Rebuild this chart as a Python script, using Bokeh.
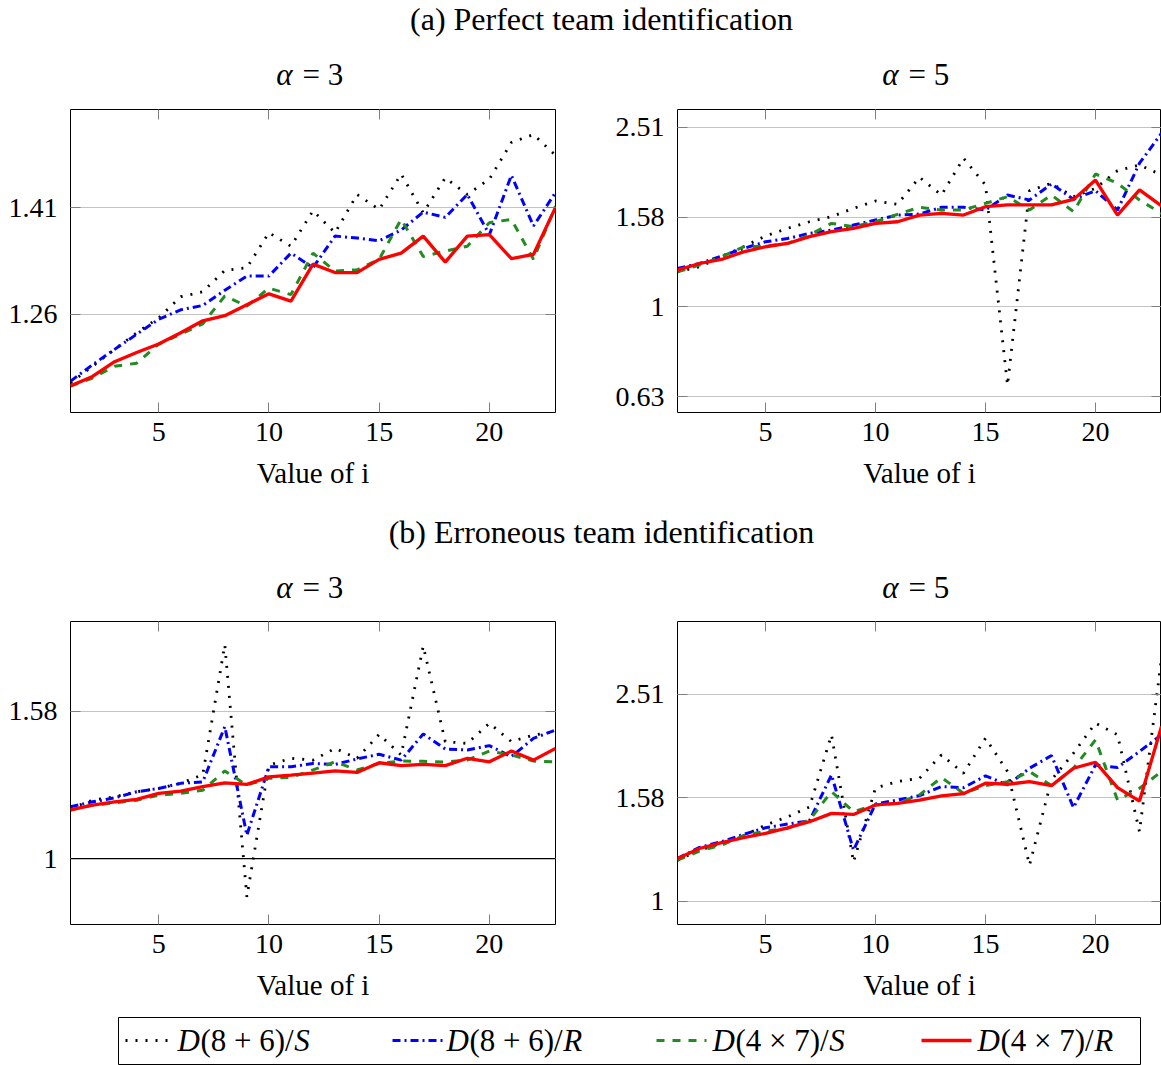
from bokeh.plotting import figure
from bokeh.models import Range1d, FixedTicker, CustomJSTickFormatter, LinearAxis, LogAxis, Span
from bokeh.layouts import column, row
from bokeh.embed import file_html
from bokeh.resources import INLINE
from bokeh.core.properties import value

FONT = "Liberation Serif"

# ---------------- data ----------------
i_values = [1, 2, 3, 4, 5, 6, 7, 8, 9, 10, 11, 12, 13, 14, 15, 16, 17, 18, 19, 20, 21, 22, 23]
x_ticks = [5, 10, 15, 20]

# (a) Perfect team identification, alpha = 3
a3_S86 = [1.169, 1.190, 1.212, 1.234, 1.254, 1.283, 1.290, 1.320, 1.324, 1.375, 1.355, 1.408, 1.375, 1.433, 1.410, 1.465, 1.405, 1.459, 1.433, 1.457, 1.516, 1.529, 1.495]
a3_R86 = [1.171, 1.192, 1.212, 1.232, 1.252, 1.265, 1.271, 1.292, 1.312, 1.312, 1.345, 1.324, 1.370, 1.367, 1.363, 1.379, 1.406, 1.398, 1.433, 1.372, 1.463, 1.385, 1.436]
a3_S47 = [1.165, 1.175, 1.190, 1.194, 1.219, 1.232, 1.246, 1.284, 1.270, 1.295, 1.286, 1.345, 1.319, 1.321, 1.336, 1.395, 1.340, 1.348, 1.355, 1.390, 1.395, 1.336, 1.415]
a3_R47 = [1.165, 1.177, 1.196, 1.208, 1.219, 1.234, 1.250, 1.257, 1.272, 1.287, 1.277, 1.329, 1.317, 1.317, 1.336, 1.345, 1.370, 1.332, 1.370, 1.372, 1.337, 1.343, 1.413]

# (a) Perfect team identification, alpha = 5
a5_S86 = [1.197, 1.228, 1.293, 1.361, 1.438, 1.495, 1.547, 1.588, 1.657, 1.721, 1.692, 1.943, 1.774, 2.142, 1.868, 0.669, 1.814, 1.884, 1.759, 1.836, 2.010, 2.070, 1.966]
a5_R86 = [1.218, 1.249, 1.297, 1.349, 1.396, 1.420, 1.457, 1.482, 1.521, 1.561, 1.601, 1.609, 1.666, 1.666, 1.643, 1.774, 1.729, 1.878, 1.735, 1.814, 1.643, 2.088, 2.435]
a5_S47 = [1.197, 1.239, 1.293, 1.361, 1.366, 1.384, 1.445, 1.534, 1.508, 1.547, 1.607, 1.666, 1.643, 1.643, 1.700, 1.759, 1.643, 1.774, 1.629, 1.976, 1.884, 1.729, 1.615]
a5_R47 = [1.207, 1.249, 1.275, 1.326, 1.361, 1.384, 1.433, 1.470, 1.495, 1.534, 1.547, 1.601, 1.615, 1.601, 1.671, 1.686, 1.686, 1.686, 1.735, 1.916, 1.601, 1.821, 1.677]

# (b) Erroneous team identification, alpha = 3
b3_S86 = [1.170, 1.200, 1.213, 1.232, 1.245, 1.265, 1.300, 1.950, 0.887, 1.339, 1.368, 1.360, 1.411, 1.368, 1.474, 1.382, 1.942, 1.441, 1.433, 1.526, 1.441, 1.471, 1.487]
b3_R86 = [1.176, 1.194, 1.209, 1.232, 1.245, 1.265, 1.271, 1.510, 1.076, 1.332, 1.332, 1.346, 1.342, 1.365, 1.385, 1.360, 1.476, 1.408, 1.404, 1.423, 1.375, 1.456, 1.494]
b3_S47 = [1.164, 1.182, 1.190, 1.200, 1.219, 1.226, 1.238, 1.315, 1.258, 1.285, 1.289, 1.319, 1.353, 1.319, 1.346, 1.356, 1.355, 1.352, 1.360, 1.399, 1.382, 1.356, 1.353]
b3_R47 = [1.164, 1.182, 1.194, 1.203, 1.226, 1.235, 1.252, 1.267, 1.261, 1.291, 1.298, 1.306, 1.315, 1.309, 1.349, 1.337, 1.342, 1.337, 1.368, 1.353, 1.399, 1.360, 1.411]

# (b) Erroneous team identification, alpha = 5
b5_S86 = [1.200, 1.255, 1.293, 1.338, 1.403, 1.455, 1.520, 2.096, 1.190, 1.655, 1.702, 1.727, 1.917, 1.766, 2.065, 1.780, 1.174, 1.715, 1.931, 2.208, 2.096, 1.362, 2.949]
b5_R86 = [1.209, 1.270, 1.303, 1.346, 1.386, 1.409, 1.430, 1.753, 1.255, 1.541, 1.568, 1.599, 1.665, 1.657, 1.746, 1.677, 1.806, 1.911, 1.516, 1.833, 1.812, 1.946, 2.096]
b5_S47 = [1.200, 1.250, 1.283, 1.338, 1.366, 1.382, 1.435, 1.628, 1.489, 1.534, 1.545, 1.604, 1.733, 1.616, 1.672, 1.702, 1.780, 1.672, 1.806, 2.049, 1.568, 1.652, 1.780]
b5_R47 = [1.209, 1.264, 1.297, 1.326, 1.352, 1.386, 1.424, 1.478, 1.471, 1.534, 1.545, 1.568, 1.597, 1.613, 1.690, 1.682, 1.702, 1.672, 1.806, 1.855, 1.657, 1.561, 2.175]

# y tick values (log axis) and their printed labels
a3_ticks = [10 ** 0.1, 10 ** 0.15]
a3_labels = ["1.26", "1.41"]
a5_ticks = [10 ** -0.2, 1.0, 10 ** 0.2, 10 ** 0.4]
a5_labels = ["0.63", "1", "1.58", "2.51"]
b3_ticks = [1.0, 10 ** 0.2]
b3_labels = ["1", "1.58"]
b5_ticks = [1.0, 10 ** 0.2, 10 ** 0.4]
b5_labels = ["1", "1.58", "2.51"]

# y ranges of the four panels
a3_range = (1.132, 1.571)
a5_range = (0.582, 2.750)
b3_range = (0.814, 2.097)
b5_range = (0.9015, 3.469)

section_titles = ["(a) Perfect team identification", "(b) Erroneous team identification"]
alpha_symbol = "α"
alpha_values = ["= 3", "= 5"]
legend_parts = [("D", "(8 + 6)/", "S"), ("D", "(8 + 6)/", "R"),
                ("D", "(4 × 7)/", "S"), ("D", "(4 × 7)/", "R")]

# ---------------- styles ----------------
STYLES = [
    dict(line_color="black", line_dash="2 8", line_width=2.8),
    dict(line_color="blue", line_dash="8 4 2 4", line_width=3.0),
    dict(line_color="#228b22", line_dash="8 8", line_width=3.0),
    dict(line_color="red", line_dash="solid", line_width=3.3),
]
TICK_COLOR = "#808080"
GRID_COLOR = "#c4c4c4"

TOTAL_W = 1161
LEFT_W = 608
RIGHT_W = TOTAL_W - LEFT_W
PANEL_CENTERS = [313, 919]


def style_axis(ax, label_size="28px"):
    ax.axis_line_color = None
    ax.major_tick_in = 10
    ax.major_tick_out = 0
    ax.minor_tick_line_color = None
    ax.major_tick_line_color = TICK_COLOR
    ax.major_tick_line_width = 1
    ax.major_label_text_font = FONT
    ax.major_label_text_font_size = label_size
    ax.major_label_text_color = "black"


def hidden_axis(ax):
    style_axis(ax, "0px")
    ax.major_label_standoff = 0
    ax.major_label_text_color = None


def panel(series, yrange, ticks, labels, width, height, b_left, b_right, b_top, b_bottom, unit_line=False):
    p = figure(width=width, height=height, x_range=Range1d(1, 23), y_range=Range1d(*yrange),
               y_axis_type="log", output_backend="svg", toolbar_location=None,
               min_border_left=b_left, min_border_right=b_right,
               min_border_top=b_top, min_border_bottom=b_bottom)
    p.background_fill_color = "white"
    p.border_fill_color = "white"
    p.outline_line_color = "black"
    p.outline_line_width = 1

    yt = FixedTicker(ticks=ticks)
    xt = FixedTicker(ticks=x_ticks)
    fmt = CustomJSTickFormatter(args=dict(vals=ticks, labs=labels), code="""
        for (let k = 0; k < vals.length; k++) {
            if (Math.abs(tick - vals[k]) < 1e-6 * vals[k]) { return labs[k]; }
        }
        return tick.toFixed(2);
    """)

    yax = p.yaxis[0]
    yax.ticker = yt
    yax.formatter = fmt
    style_axis(yax)
    yax.major_label_standoff = 13

    xax = p.xaxis[0]
    xax.ticker = xt
    style_axis(xax)
    xax.major_label_standoff = 10
    xax.axis_label = "Value of i"
    xax.axis_label_text_font = FONT
    xax.axis_label_text_font_size = "29px"
    xax.axis_label_text_font_style = "normal"
    xax.axis_label_text_color = "black"
    xax.axis_label_standoff = 13

    top = LinearAxis(ticker=xt)
    hidden_axis(top)
    p.add_layout(top, "above")
    right = LogAxis(ticker=yt)
    hidden_axis(right)
    p.add_layout(right, "right")

    p.xgrid.visible = False
    p.ygrid[0].ticker = yt
    p.ygrid.grid_line_color = GRID_COLOR
    p.ygrid.grid_line_width = 1.2

    if unit_line:
        p.add_layout(Span(location=1.0, dimension="width", line_color="black", line_width=1.2))

    for ys, st in zip(series, STYLES):
        p.line(i_values, ys, **st)
    return p


def blank(width, height):
    p = figure(width=width, height=height, x_range=Range1d(0, width), y_range=Range1d(height, 0),
               output_backend="svg", toolbar_location=None, min_border=0,
               x_axis_location=None, y_axis_location=None)
    p.outline_line_color = None
    p.background_fill_color = "white"
    p.border_fill_color = "white"
    for g in p.grid:
        g.visible = False
    return p


def header(height, title, title_mid, alpha_mid):
    h = blank(TOTAL_W, height)
    h.text(x=[601], y=[title_mid], text=[title], text_font=value(FONT), text_font_size="32px",
           text_align="center", text_baseline="middle", text_color="black")
    # "α" in italic, "= n" upright, as in the math-set titles
    h.text(x=[c - 21 for c in PANEL_CENTERS], y=[alpha_mid, alpha_mid], text=[alpha_symbol, alpha_symbol],
           text_font=value(FONT), text_font_size="31px", text_font_style="italic",
           text_align="right", text_baseline="middle", text_color="black")
    h.text(x=[c - 11 for c in PANEL_CENTERS], y=[alpha_mid, alpha_mid], text=alpha_values,
           text_font=value(FONT), text_font_size="31px",
           text_align="left", text_baseline="middle", text_color="black")
    return h


# page rows: header a 0-95, panels a 95-500, header b 500-607, panels b 607-1008, legend 1008-1065
head_a = header(95, section_titles[0], 18, 74)
pa3 = panel([a3_S86, a3_R86, a3_S47, a3_R47], a3_range, a3_ticks, a3_labels, LEFT_W, 405, 70, 53, 14, 88)
pa5 = panel([a5_S86, a5_R86, a5_S47, a5_R47], a5_range, a5_ticks, a5_labels, RIGHT_W, 405, 69, 0, 14, 88)

head_b = header(107, section_titles[1], 31, 87)
pb3 = panel([b3_S86, b3_R86, b3_S47, b3_R47], b3_range, b3_ticks, b3_labels, LEFT_W, 401, 70, 53, 14, 84, unit_line=True)
pb5 = panel([b5_S86, b5_R86, b5_S47, b5_R47], b5_range, b5_ticks, b5_labels, RIGHT_W, 401, 69, 0, 14, 84)

# ---------------- legend ----------------
leg = blank(TOTAL_W, 57)
leg.quad(left=[118], right=[1140], top=[9], bottom=[56], fill_color=None, line_color="black", line_width=1)
LEG_FS = 31
sample_x = [125, 392, 656, 921]
text_x = [177, 446, 712, 977]
leg_y = 32
for k, st in enumerate(STYLES):
    leg.line([sample_x[k], sample_x[k] + 50], [leg_y, leg_y], **st)
    a, mid, b = legend_parts[k]
    x0 = text_x[k]
    leg.text(x=[x0], y=[leg_y], text=[a], text_font=value(FONT), text_font_size=f"{LEG_FS}px",
             text_font_style="italic", text_align="left", text_baseline="middle", text_color="black")
    leg.text(x=[x0 + 0.74 * LEG_FS], y=[leg_y], text=[mid], text_font=value(FONT),
             text_font_size=f"{LEG_FS}px", text_align="left", text_baseline="middle", text_color="black")
    leg.text(x=[x0 + (0.74 + 3.03) * LEG_FS], y=[leg_y], text=[b], text_font=value(FONT),
             text_font_size=f"{LEG_FS}px", text_font_style="italic", text_align="left",
             text_baseline="middle", text_color="black")

layout = column(head_a, row(pa3, pa5), head_b, row(pb3, pb5), leg)

with open("out.html", "w") as f:
    f.write(file_html(layout, INLINE, title="Team identification"))
